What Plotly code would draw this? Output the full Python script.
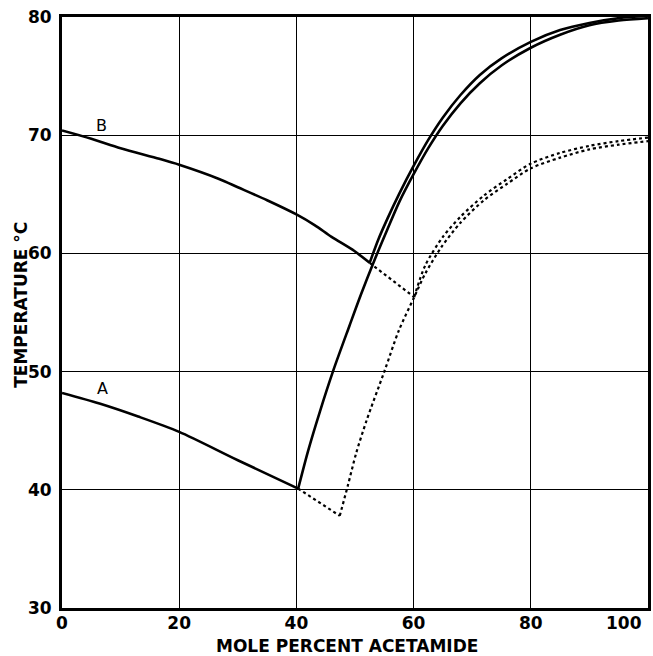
import plotly.graph_objects as go

# --- Data (mole percent acetamide vs temperature °C) ---
# Curve A: solid branch falling to the eutectic
a_fall_x = [0, 6.4, 13, 20, 30, 40.3]
a_fall_y = [48.2, 47.3, 46.2, 44.9, 42.5, 40.1]
# Curve A: solid liquidus rising from eutectic
a_rise_x = [40.3, 42, 44, 46.3, 49, 51, 53.3, 55.5, 57.6, 60, 62.5, 65, 68, 71.3, 75, 80, 85, 90, 95, 100]
a_rise_y = [40.1, 43.3, 46.6, 50.1, 53.8, 56.5, 59.4, 62.0, 64.4, 66.7, 68.9, 70.8, 72.7, 74.4, 75.9, 77.4, 78.5, 79.3, 79.7, 79.9]
# Curve A: dotted (metastable) branch
a_dot_x = [40.3, 47.4]
a_dot_y = [40.1, 37.8]
a_dot_rise_x = [47.4, 48.8, 50.2, 52, 55, 57.5, 60.1, 62, 64.7, 68, 72, 76, 80, 85, 90, 95, 100]
a_dot_rise_y = [37.8, 40.4, 43.1, 45.9, 50.0, 53.5, 56.3, 58.3, 60.5, 62.6, 64.5, 65.9, 67.2, 68.1, 68.8, 69.2, 69.5]

# Curve B: solid branch falling to the eutectic
b_fall_x = [0, 5, 10, 16.6, 20, 26.8, 30, 35, 40, 43.1, 46, 49.9, 52.5]
b_fall_y = [70.4, 69.7, 68.9, 68.0, 67.5, 66.3, 65.6, 64.5, 63.3, 62.4, 61.4, 60.2, 59.2]
# Curve B: solid liquidus rising from eutectic
b_rise_x = [52.5, 54, 55.5, 57.6, 60, 62.5, 65, 68, 71.3, 75, 80, 85, 90, 95, 100]
b_rise_y = [59.2, 61.2, 62.9, 65.1, 67.4, 69.6, 71.5, 73.4, 75.1, 76.5, 77.9, 78.9, 79.5, 79.9, 80.1]
# Curve B: dotted (metastable) branch
b_dot_x = [52.5, 60.1]
b_dot_y = [59.2, 56.3]
b_dot_rise_x = [60.1, 62, 65, 68, 72, 76, 80, 85, 90, 95, 100]
b_dot_rise_y = [56.3, 59.0, 61.4, 63.1, 64.9, 66.3, 67.6, 68.5, 69.1, 69.5, 69.8]

x_ticks = [0, 20, 40, 60, 80, 100]
x_tick_labels = ["0", "20", "40", "60", "80", "100"]
y_ticks = [30, 40, 50, 60, 70, 80]
y_tick_labels = ["30", "40", "50", "60", "70", "80"]
curve_labels = ["A", "B"]
label_x = [6.9, 6.8]
label_y = [48.6, 70.8]

FONT = "DejaVu Sans, Liberation Sans, Arial, sans-serif"

fig = go.Figure()

def add(xs, ys, dotted=False, smooth=False):
    fig.add_trace(go.Scatter(
        x=xs, y=ys, mode="lines", showlegend=False, hoverinfo="skip",
        line=dict(color="black", width=2.2 if dotted else 2.6,
                  dash="dot" if dotted else "solid",
                  shape="spline" if smooth else "linear", smoothing=0.8),
    ))

add(a_fall_x, a_fall_y, smooth=True)
add(a_rise_x, a_rise_y, smooth=True)
add(a_dot_x, a_dot_y, dotted=True)
add(a_dot_rise_x, a_dot_rise_y, dotted=True, smooth=True)
add(b_fall_x, b_fall_y, smooth=True)
add(b_rise_x, b_rise_y, smooth=True)
add(b_dot_x, b_dot_y, dotted=True)
add(b_dot_rise_x, b_dot_rise_y, dotted=True, smooth=True)

tickfont = dict(family=FONT, size=17, color="black", weight="bold")

for t, lx, ly in zip(curve_labels, label_x, label_y):
    fig.add_annotation(x=lx, y=ly, text=t, showarrow=False,
                       font=dict(family=FONT, size=16, color="black"),
                       xanchor="center", yanchor="middle")

# last x tick label is pulled inside the right edge, as in the original
fig.add_annotation(xref="paper", yref="paper", x=0.994, y=-0.0257, text=x_tick_labels[-1],
                   showarrow=False, xanchor="right", yanchor="middle", font=tickfont)

fig.add_annotation(xref="paper", yref="paper", x=0.487, y=-0.064, text="MOLE PERCENT ACETAMIDE",
                   showarrow=False, xanchor="center", yanchor="middle",
                   font=dict(family=FONT, size=17, color="black", weight="bold"))
fig.add_annotation(xref="paper", yref="paper", x=-0.07, y=0.513, text="TEMPERATURE °C",
                   showarrow=False, textangle=-90, xanchor="center", yanchor="middle",
                   font=dict(family=FONT, size=17, color="black", weight="bold"))

fig.update_xaxes(range=[0, 100], tickvals=x_ticks[:-1], ticktext=x_tick_labels[:-1],
                 showgrid=True, gridcolor="black", gridwidth=1.4, zeroline=False,
                 showline=True, linecolor="black", linewidth=3, mirror=True,
                 ticks="", tickfont=tickfont, ticklabelstandoff=-2)
fig.update_yaxes(range=[30, 80], tickvals=y_ticks, ticktext=y_tick_labels,
                 showgrid=True, gridcolor="black", gridwidth=1.4, zeroline=False,
                 showline=True, linecolor="black", linewidth=3, mirror=True,
                 ticks="", tickfont=tickfont, ticklabelstandoff=4)

fig.update_layout(width=653, height=656, margin=dict(l=62, r=2, t=17, b=48),
                  paper_bgcolor="white", plot_bgcolor="white")

fig.write_html("out.html", config={"displayModeBar": False},
               post_script="document.body.style.margin='0';document.body.style.padding='0';document.body.style.overflow='hidden';")
